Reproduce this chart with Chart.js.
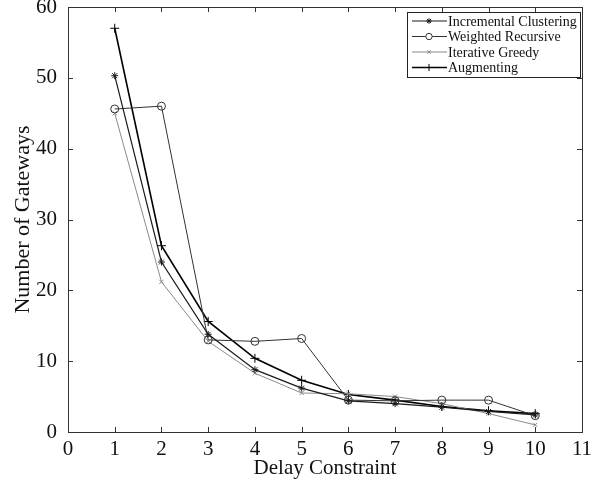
<!DOCTYPE html>
<html>
<head>
<meta charset="utf-8">
<script src="https://cdn.jsdelivr.net/npm/chart.js"></script>
<style>
  html, body { margin: 0; padding: 0; background: #fff; }
  #wrap { width: 594px; height: 486px; }
</style>
</head>
<body>
<div id="wrap"><canvas id="c" width="594" height="486"></canvas></div>
<script>
// data
const delays = [1, 2, 3, 4, 5, 6, 7, 8, 9, 10];
const incrementalClustering = [50.3, 24.0, 13.8, 8.8, 6.2, 4.4, 4.0, 3.5, 2.9, 2.4];
const weightedRecursive = [45.6, 46.0, 13.0, 12.8, 13.2, 4.5, 4.4, 4.5, 4.5, 2.3];
const iterativeGreedy = [45.0, 21.2, 12.8, 8.3, 5.5, 5.4, 5.0, 4.0, 2.6, 1.0];
const augmenting = [57.0, 26.3, 15.6, 10.4, 7.3, 5.3, 4.5, 3.6, 3.0, 2.6];
const xTicks = [0, 1, 2, 3, 4, 5, 6, 7, 8, 9, 10, 11];
const yTicks = [0, 10, 20, 30, 40, 50, 60];

const SERIF = '"Liberation Serif", "Times New Roman", serif';

function pts(vals){ return vals.map((v, i) => ({x: delays[i], y: v})); }

const series = [
    {label: 'Incremental Clustering', data: incrementalClustering, color: '#1a1a1a', style: 'star', width: 1.2, r: 3.5},
    {label: 'Weighted Recursive', data: weightedRecursive, color: '#333333', style: 'circle', width: 1, r: 4},
    {label: 'Iterative Greedy', data: iterativeGreedy, color: '#8a8a8a', style: 'crossRot', width: 1, r: 3},
    {label: 'Augmenting', data: augmenting, color: '#000000', style: 'cross', width: 1.6, r: 4.5}
];

// inward ticks on all four sides + the top/right frame
const frame = {
    id: 'frame',
    afterDraw(chart){
        const {ctx, chartArea: a, scales: {x, y}} = chart;
        ctx.save();
        ctx.strokeStyle = '#333';
        ctx.lineWidth = 1;
        ctx.strokeRect(a.left + 0.5, a.top + 0.5, a.right - a.left, a.bottom - a.top);
        ctx.beginPath();
        xTicks.forEach(t => {
            const px = Math.round(x.getPixelForValue(t)) + 0.5;
            ctx.moveTo(px, a.bottom); ctx.lineTo(px, a.bottom - 5);
            ctx.moveTo(px, a.top); ctx.lineTo(px, a.top + 5);
        });
        yTicks.forEach(t => {
            const py = Math.round(y.getPixelForValue(t)) + 0.5;
            ctx.moveTo(a.left, py); ctx.lineTo(a.left + 5, py);
            ctx.moveTo(a.right, py); ctx.lineTo(a.right - 5, py);
        });
        ctx.stroke();
        ctx.restore();
    }
};

// legend box in the top right corner, drawn by hand
const boxLegend = {
    id: 'boxLegend',
    afterDraw(chart){
        const {ctx} = chart;
        const bx = 407, by = 12, bw = 173, bh = 65;
        ctx.save();
        ctx.fillStyle = '#fff';
        ctx.fillRect(bx, by, bw, bh);
        ctx.strokeStyle = '#222';
        ctx.lineWidth = 1;
        ctx.strokeRect(bx + 0.5, by + 0.5, bw, bh);
        ctx.font = '14px ' + SERIF;
        ctx.textBaseline = 'middle';
        series.forEach((s, i) => {
            const yy = by + 9 + i * 15.5;
            ctx.strokeStyle = s.color;
            ctx.lineWidth = s.width;
            ctx.beginPath(); ctx.moveTo(bx + 5, yy); ctx.lineTo(bx + 40, yy); ctx.stroke();
            ctx.fillStyle = '#fff';
            ctx.lineWidth = 1;
            Chart.helpers.drawPoint(ctx, {pointStyle: s.style, radius: s.r * 0.8, borderWidth: 1, rotation: 0}, bx + 22, yy);
            ctx.fillStyle = '#111';
            ctx.fillText(s.label, bx + 41, yy + 1);
        });
        ctx.restore();
    }
};

new Chart(document.getElementById('c'), {
    type: 'line',
    data: {
        datasets: series.map(s => ({
            label: s.label,
            data: pts(s.data),
            borderColor: s.color,
            borderWidth: s.width,
            pointStyle: s.style,
            pointRadius: s.r,
            pointBorderColor: s.color,
            pointBackgroundColor: 'rgba(255,255,255,0)',
            pointBorderWidth: 1,
            tension: 0,
            fill: false
        }))
    },
    options: {
        responsive: false,
        animation: false,
        devicePixelRatio: 1,
        layout: {padding: {left: 10, top: 7, right: 12, bottom: 0}},
        plugins: {legend: {display: false}, tooltip: {enabled: false}},
        scales: {
            x: {
                type: 'linear', min: 0, max: 11,
                afterBuildTicks: sc => { sc.ticks = xTicks.map(v => ({value: v})); },
                afterFit: sc => { sc.height = 54; },
                grid: {display: false},
                border: {display: true, color: '#333'},
                ticks: {color: '#111', font: {family: SERIF, size: 21}, padding: -3, maxRotation: 0, autoSkip: false},
                title: {display: true, text: 'Delay Constraint', color: '#111', font: {family: SERIF, size: 21}, padding: {top: -4, bottom: 5}}
            },
            y: {
                min: 0, max: 60,
                afterBuildTicks: sc => { sc.ticks = yTicks.map(v => ({value: v})); },
                afterFit: sc => { sc.width = 58; sc.paddingTop = 0; sc.paddingBottom = 0; },
                grid: {display: false},
                border: {display: true, color: '#333'},
                ticks: {color: '#111', font: {family: SERIF, size: 21}, padding: 3},
                title: {display: true, text: 'Number of Gateways', color: '#111', font: {family: SERIF, size: 22}, padding: {top: 0, bottom: 0}}
            }
        }
    },
    plugins: [frame, boxLegend]
});
</script>
</body>
</html>
